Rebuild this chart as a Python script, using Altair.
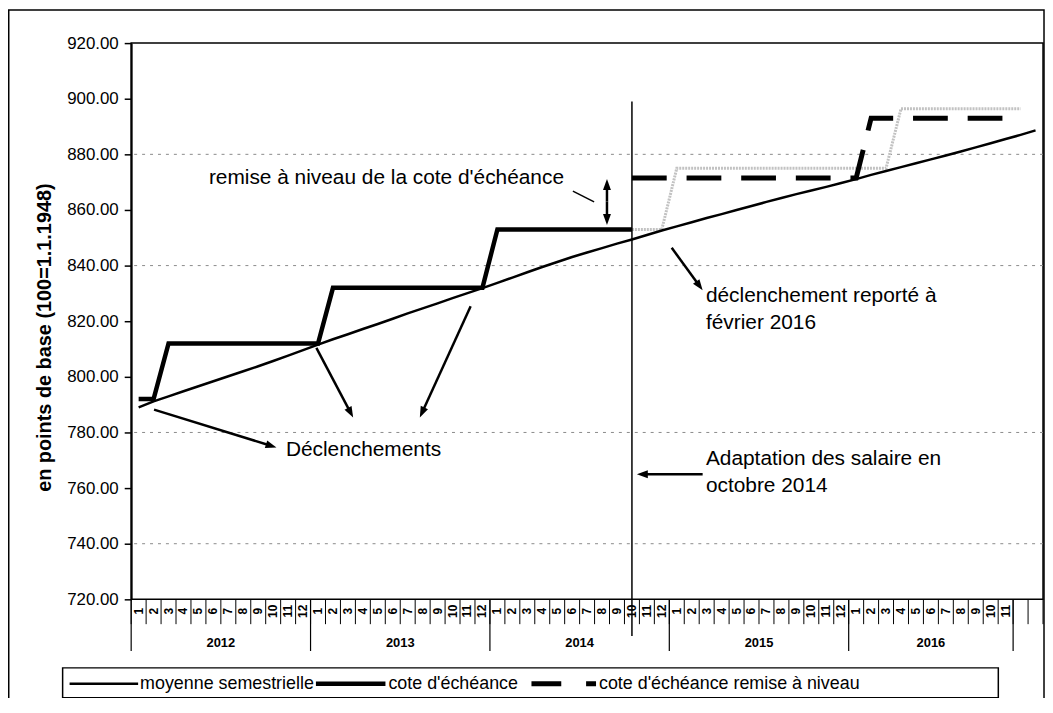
import math
import altair as alt
import pandas as pd

# ---------------- data ----------------
years = ["2012", "2013", "2014", "2015", "2016"]
months_in_year = [12, 12, 12, 12, 11]
n_cells = 61  # month slots on the x axis (incl. 2 empty slots at the end)

# moyenne semestrielle, month index 0 (Jan 2012) .. 60
moyenne = [789.0, 791.2, 793.0, 794.8, 796.6, 798.4, 800.2, 802.0, 803.8, 805.7,
           807.6, 809.6, 811.6, 813.5, 815.3, 817.2, 819.0, 820.9, 822.8, 824.6,
           826.4, 828.3, 830.1, 831.9, 833.8, 835.7, 837.6, 839.5, 841.3, 843.1,
           844.7, 846.3, 847.9, 849.4, 851.0, 852.6, 854.1, 855.6, 857.1, 858.5,
           860.0, 861.4, 862.9, 864.3, 865.7, 867.0, 868.3, 869.7, 871.1, 872.6,
           874.0, 875.4, 876.8, 878.2, 879.6, 881.0, 882.5, 884.0, 885.5, 887.0,
           888.6]

# cote d'échéance, month index 0 .. 33
cote = [792.0, 792.0, 812.0, 812.0, 812.0, 812.0, 812.0, 812.0, 812.0, 812.0,
        812.0, 812.0, 812.0, 832.0, 832.0, 832.0, 832.0, 832.0, 832.0, 832.0,
        832.0, 832.0, 832.0, 832.0, 853.0, 853.0, 853.0, 853.0, 853.0, 853.0,
        853.0, 853.0, 853.0, 853.0]

# cote d'échéance sans remise à niveau (grey), month index 33 .. 59
cote_sans = [853.0, 853.0, 853.0, 875.0, 875.0, 875.0, 875.0, 875.0, 875.0, 875.0,
             875.0, 875.0, 875.0, 875.0, 875.0, 875.0, 875.0, 875.0, 896.4, 896.4,
             896.4, 896.4, 896.4, 896.4, 896.4, 896.4, 896.4]

# cote d'échéance remise à niveau, month index 33 .. 59
cote_remise = [871.5, 871.5, 871.5, 871.5, 871.5, 871.5, 871.5, 871.5, 871.5, 871.5,
               871.5, 871.5, 871.5, 871.5, 871.5, 871.5, 893.0, 893.0, 893.0, 893.0,
               893.0, 893.0, 893.0, 893.0, 893.0, 893.0, 893.0]

grid_values = [880, 840, 780, 740]
y_ticks = [720, 740, 760, 780, 800, 820, 840, 860, 880, 900, 920]
oct_2014 = 33          # month index of the vertical marker
marker_top = 899.0

# annotations (month position, value)
texts = [
    ("remise à niveau de la cote d'échéance", 5.2, 871.4),
    ("Déclenchements", 10.35, 773.6),
    ("déclenchement reporté à", 38.45, 828.9),
    ("février 2016", 38.45, 819.3),
    ("Adaptation des salaire en", 38.45, 770.4),
    ("octobre 2014", 38.45, 760.7),
]
arrows = [  # start pos, start value, end pos, end value (head at end)
    (1.53, 788.2, 9.72, 774.6),
    (12.39, 810.4, 14.85, 785.4),
    (22.71, 825.4, 19.31, 785.4),
    (36.16, 846.4, 38.23, 831.1),
    (38.23, 765.0, 33.83, 765.0),
    (31.83, 863.0, 31.83, 871.1),
    (31.83, 863.0, 31.83, 854.6),
]
connector = (29.55, 866.8, 30.97, 862.9)

# ---------------- layout ----------------
W, H = 918, 560
PAD_L, PAD_T, PAD_R, PAD_B = 124, 33, 2, 97
CELL = W / n_cells
PXU = H / 200.0
FONT = "Liberation Sans"

def series_df(vals, start, name):
    return pd.DataFrame({"pos": [start + k + 0.5 for k in range(len(vals))],
                         "value": vals, "series": name})

xscale = alt.Scale(domain=[0, n_cells], nice=False, zero=False)
yscale = alt.Scale(domain=[720, 920], nice=False, zero=False)
X = alt.X("pos:Q", scale=xscale, axis=None)
yaxis = alt.Axis(values=y_ticks, format=".2f", labelFontSize=17, labelFont=FONT,
                 labelColor="black", tickColor="black", tickSize=7, tickWidth=1.5,
                 labelPadding=6, domainColor="black", domainWidth=2, grid=False,
                 title="en points de base (100=1.1.1948)", titleFont=FONT,
                 titleFontSize=20, titleFontWeight="bold", titleColor="black",
                 titleX=-87, titleY=296, titleAngle=270, titleAlign="center",
                 titleBaseline="middle")
Y = alt.Y("value:Q", scale=yscale, axis=yaxis)

dummy = pd.DataFrame({"a": [0]})

# grid
grid = alt.Chart(pd.DataFrame({"value": grid_values})).mark_rule(
    color="#8a8a8a", strokeWidth=1, strokeDash=[3, 5]).encode(y=Y)

# series
l_sans = alt.Chart(series_df(cote_sans, 33, "sans")).mark_line(
    color="#c2c2c2", strokeWidth=3, strokeDash=[2, 1]).encode(x=X, y=Y)
l_moy = alt.Chart(series_df(moyenne, 0, "moy")).mark_line(
    color="black", strokeWidth=2.5).encode(x=X, y=Y)
l_cote = alt.Chart(series_df(cote, 0, "cote")).mark_line(
    color="black", strokeWidth=4.5).encode(x=X, y=Y)
l_remise = alt.Chart(series_df(cote_remise, 33, "remise")).mark_line(
    color="black", strokeWidth=5, strokeDash=[35, 20], strokeCap="butt").encode(x=X, y=Y)

# vertical marker Oct 2014
vline = alt.Chart(pd.DataFrame({"pos": [oct_2014 + 0.5], "value": [marker_top]})).mark_rule(
    color="black", strokeWidth=1.5).encode(x=X, y=Y, y2=alt.value(597))

# custom x axis
mlabels, mpos = [], []
k = 0
for y_i, n in zip(years, months_in_year):
    for m in range(1, n + 1):
        mlabels.append(str(m))
        mpos.append(k + 0.5)
        k += 1
month_text = alt.Chart(pd.DataFrame({"pos": mpos, "label": mlabels})).mark_text(
    angle=270, fontSize=12, fontWeight="bold", font=FONT, color="black",
    align="center", baseline="middle").encode(x=X, y=alt.value(572), text="label:N")

bounds = list(range(0, n_cells + 1))
year_bounds = [0]
for n in months_in_year:
    year_bounds.append(year_bounds[-1] + n)
short_ticks = alt.Chart(pd.DataFrame({"pos": bounds})).mark_rule(
    color="black", strokeWidth=1).encode(x=X, y=alt.value(H), y2=alt.value(585))
long_ticks = alt.Chart(pd.DataFrame({"pos": year_bounds})).mark_rule(
    color="black", strokeWidth=1.2).encode(x=X, y=alt.value(H), y2=alt.value(612))
ycenters = [(year_bounds[j] + year_bounds[j + 1]) / 2 for j in range(len(years))]
year_text = alt.Chart(pd.DataFrame({"pos": ycenters, "label": years})).mark_text(
    fontSize=13, fontWeight="bold", font=FONT, color="black",
    baseline="middle").encode(x=X, y=alt.value(604), text="label:N")

# annotations
ann_text = alt.Chart(pd.DataFrame({"label": [t[0] for t in texts],
                                   "pos": [t[1] for t in texts],
                                   "value": [t[2] for t in texts]})).mark_text(
    fontSize=21, font=FONT, color="black", align="left", baseline="middle").encode(
    x=X, y=Y, text="label:N")

rows, heads = [], []
for (x1, v1, x2, v2) in arrows:
    dx = (x2 - x1) * CELL
    dy = -(v2 - v1) * PXU
    L = math.hypot(dx, dy)
    ang = math.degrees(math.atan2(dx, -dy)) % 360
    sh = 5.0 / L  # shorten the shaft so it hides under the head
    rows.append({"pos": x1, "value": v1,
                 "pos2": x2 - (x2 - x1) * sh, "value2": v2 - (v2 - v1) * sh})
    heads.append({"pos": x2, "value": v2, "ang": ang})
shafts = alt.Chart(pd.DataFrame(rows)).mark_rule(color="black", strokeWidth=2.5).encode(
    x=X, y=Y, x2="pos2:Q", y2="value2:Q")
head_marks = alt.Chart(pd.DataFrame(heads)).mark_point(
    shape="M0,0L0.8,2.2L-0.8,2.2Z", size=100, filled=True, color="black",
    opacity=1, strokeWidth=0).encode(x=X, y=Y, angle=alt.Angle("ang:Q", scale=None))
conn = alt.Chart(pd.DataFrame([{"pos": connector[0], "value": connector[1],
                                "pos2": connector[2], "value2": connector[3]}])).mark_rule(
    color="black", strokeWidth=1.5).encode(x=X, y=Y, x2="pos2:Q", y2="value2:Q")

# legend (manual)
leg_y = 645
legend_box = alt.Chart(dummy).mark_rect(fillOpacity=0, stroke="black", strokeWidth=1.5).encode(
    x=alt.value(-69), x2=alt.value(873), y=alt.value(629), y2=alt.value(659))
lg1 = alt.Chart(dummy).mark_rule(color="black", strokeWidth=2.5).encode(
    x=alt.value(-62), x2=alt.value(7), y=alt.value(leg_y))
lg2 = alt.Chart(dummy).mark_rule(color="black", strokeWidth=4.5).encode(
    x=alt.value(186), x2=alt.value(256), y=alt.value(leg_y))
lg3 = alt.Chart(dummy).mark_rule(color="black", strokeWidth=5, strokeDash=[30, 25],
                                 strokeCap="butt").encode(
    x=alt.value(403), x2=alt.value(468), y=alt.value(leg_y))
lt1 = alt.Chart(dummy).mark_text(text="moyenne semestrielle", fontSize=18, font=FONT,
                                 align="left", baseline="middle", color="black").encode(
    x=alt.value(9), y=alt.value(leg_y))
lt2 = alt.Chart(dummy).mark_text(text="cote d'échéance", fontSize=18, font=FONT,
                                 align="left", baseline="middle", color="black").encode(
    x=alt.value(259), y=alt.value(leg_y))
lt3 = alt.Chart(dummy).mark_text(text="cote d'échéance remise à niveau", fontSize=18,
                                 font=FONT, align="left", baseline="middle",
                                 color="black").encode(x=alt.value(471), y=alt.value(leg_y))

frame = alt.Chart(dummy).mark_rect(fillOpacity=0, stroke="black", strokeWidth=1.5).encode(
    x=alt.value(-123.25), x2=alt.value(919), y=alt.value(-33.25), y2=alt.value(700))

chart = alt.layer(
    grid, l_sans, l_moy, l_cote, l_remise, vline,
    short_ticks, long_ticks, month_text, year_text,
    ann_text, conn, shafts, head_marks,
    legend_box, lg1, lg2, lg3, lt1, lt2, lt3, frame,
).properties(
    width=W, height=H,
    autosize=alt.AutoSizeParams(type="none"),
    padding={"left": PAD_L, "top": PAD_T, "right": PAD_R, "bottom": PAD_B},
    background="white",
).configure_view(stroke="black", strokeWidth=1.5)

chart.save("out.html", embed_options={"renderer": "svg", "actions": False})
